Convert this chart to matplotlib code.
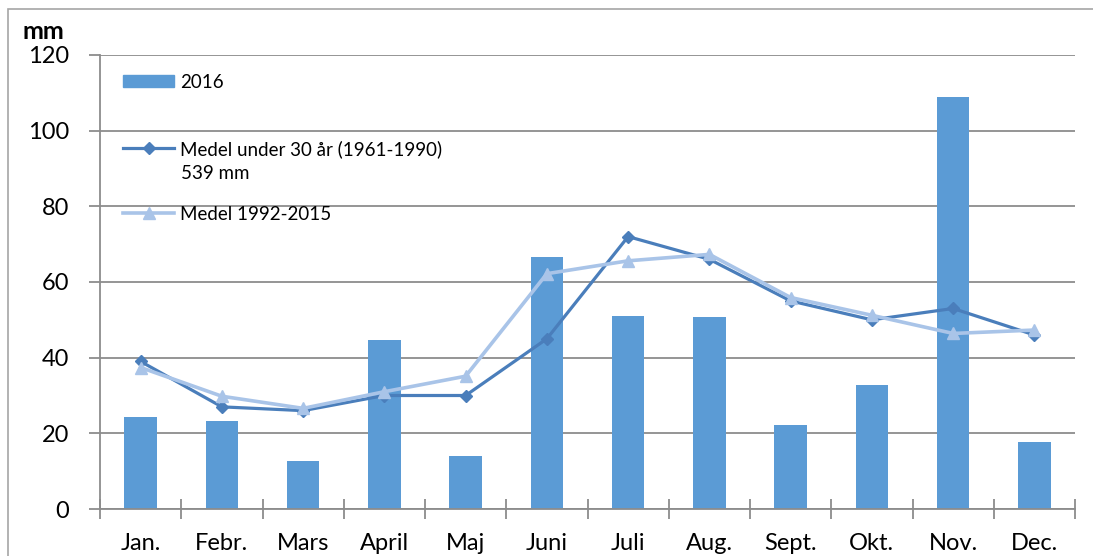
import matplotlib
matplotlib.use("Agg")
import matplotlib.pyplot as plt
from matplotlib.patches import Rectangle
from matplotlib.lines import Line2D
import numpy as np

plt.rcParams['font.family'] = ['Lato', 'DejaVu Sans']

months = ["Jan.", "Febr.", "Mars", "April", "Maj", "Juni", "Juli", "Aug.", "Sept.", "Okt.", "Nov.", "Dec."]
rain_2016 = [24.3, 23.3, 12.8, 44.8, 14.0, 66.7, 51.0, 50.7, 22.2, 32.7, 108.9, 17.6]
mean_1961_1990 = [39, 27, 26, 30, 30, 45, 72, 66, 55, 50, 53, 46]
mean_1992_2015 = [37.4, 29.8, 26.6, 31.0, 35.1, 62.2, 65.6, 67.3, 55.9, 51.2, 46.4, 47.3]
yticks = [0, 20, 40, 60, 80, 100, 120]

bar_color = "#5B9BD5"
dark_color = "#4A7EBB"
light_color = "#A9C4E8"
grid_color = "#8C8C8C"

fig = plt.figure(figsize=(10.93, 5.56), dpi=100)
ax = fig.add_axes([100/1093, 1-509/556, 975/1093, (509-55)/556])

x = np.arange(len(months))
ax.bar(x, rain_2016, width=0.4, color=bar_color, zorder=2)
ax.plot(x, mean_1961_1990, color=dark_color, lw=2.3, marker="D", ms=6.5, zorder=3)
ax.plot(x, mean_1992_2015, color=light_color, lw=2.6, marker="^", ms=9, zorder=4)

ax.set_xlim(-0.5, len(months) - 0.5)
ax.set_ylim(0, 120)
ax.set_yticks(yticks)
ax.set_yticklabels([str(v) for v in yticks], fontsize=17)
ax.yaxis.grid(True, color=grid_color, lw=1.3, zorder=0)
ax.set_axisbelow(True)

ax.set_xticks(x)
ax.set_xticklabels(months, fontsize=17)
ax.set_xticks(np.arange(-0.5, len(months) + 0.5, 1), minor=True)
ax.tick_params(axis='x', which='major', length=0, pad=17)
ax.tick_params(axis='x', which='minor', direction='inout', length=15, color=grid_color, width=1.3)
ax.tick_params(axis='y', which='major', direction='out', length=8, color=grid_color, width=1.3, pad=14)

for s in ['top', 'right']:
    ax.spines[s].set_visible(False)
for s in ['left', 'bottom']:
    ax.spines[s].set_color(grid_color)
    ax.spines[s].set_linewidth(1.3)

# legends
fs = 13.5
common = dict(bbox_transform=fig.transFigure, frameon=False, fontsize=fs,
              handlelength=2.72, handletextpad=0.32, borderpad=0, borderaxespad=0)
h1 = Rectangle((0, 0), 1, 1, color=bar_color)
leg1 = ax.legend([h1], ["2016"], loc='center left', bbox_to_anchor=(123/1093, 1-82/556),
                 handleheight=0.6, **common)
ax.add_artist(leg1)
h2 = Line2D([], [], color=dark_color, lw=2.3, marker="D", ms=6.5)
leg2 = ax.legend([h2], ["Medel under 30 år (1961-1990)"], loc='center left',
                 bbox_to_anchor=(123/1093, 1-149/556), **common)
ax.add_artist(leg2)
h3 = Line2D([], [], color=light_color, lw=2.6, marker="^", ms=9)
leg3 = ax.legend([h3], ["Medel 1992-2015"], loc='center left', bbox_to_anchor=(123/1093, 1-214/556),
                 **common)
fig.text(181/1093, 1-173/556, "539 mm", fontsize=fs, ha='left', va='center')

fig.text(23/1093, 1-39/556, "mm", fontsize=18, fontweight='bold', ha='left', va='baseline')

fig.patches.append(Rectangle((8/1093, -0.05), 1.1, 1-9/556+0.05, transform=fig.transFigure,
                             fill=False, edgecolor="#A6A6A6", lw=1.2))

fig.savefig("out.png", dpi=100)
